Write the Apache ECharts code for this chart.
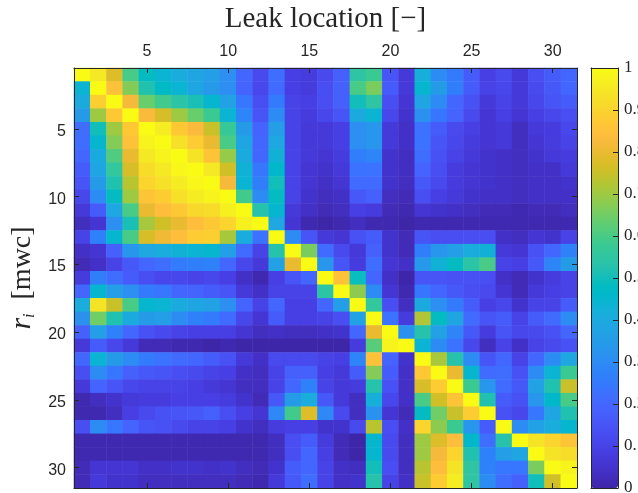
<!DOCTYPE html>
<html><head><meta charset="utf-8">
<style>html,body{margin:0;padding:0;background:#fff}#c{width:638px;height:493px}</style>
<script src="https://cdn.jsdelivr.net/npm/echarts@6/dist/echarts.min.js"></script>
</head><body><div id="c"></div>
<script>
const categories=[1,2,3,4,5,6,7,8,9,10,11,12,13,14,15,16,17,18,19,20,21,22,23,24,25,26,27,28,29,30,31];
const colorbarTicks=[0,.1,.2,.3,.4,.5,.6,.7,.8,.9,1];
const r01=[1,.95,.78,.60,.48,.44,.41,.38,.36,.31,.20,.12,.22,.09,.08,.12,.18,.55,.58,.15,.07,.42,.30,.25,.17,.09,.12,.07,.13,.17,.20];
const r02=[.44,1,.85,.67,.52,.47,.44,.38,.34,.31,.19,.11,.21,.09,.08,.13,.18,.60,.66,.17,.07,.45,.35,.26,.17,.10,.11,.07,.12,.16,.20];
const r03=[.40,.89,1,.82,.64,.59,.54,.51,.45,.37,.24,.13,.25,.10,.09,.13,.18,.50,.55,.13,.06,.38,.30,.20,.14,.07,.10,.07,.11,.15,.17];
const r04=[.35,.70,.87,1,.83,.77,.70,.64,.58,.44,.28,.15,.30,.10,.08,.11,.15,.40,.44,.11,.05,.32,.24,.19,.12,.06,.09,.06,.09,.11,.13];
const r05=[.22,.50,.70,.87,1,.96,.87,.83,.75,.57,.35,.19,.36,.10,.07,.07,.09,.31,.33,.07,.04,.23,.17,.12,.09,.06,.07,.03,.07,.08,.11];
const r06=[.22,.45,.67,.85,.98,1,.93,.88,.80,.60,.38,.20,.39,.10,.07,.07,.09,.31,.33,.07,.04,.23,.15,.11,.08,.06,.07,.03,.06,.08,.10];
const r07=[.20,.40,.61,.80,.95,.98,1,.94,.86,.69,.40,.20,.43,.10,.07,.06,.08,.26,.28,.05,.03,.22,.14,.10,.07,.05,.04,.03,.05,.07,.08];
const r08=[.17,.38,.56,.77,.92,.95,.99,1,.95,.76,.43,.24,.46,.10,.06,.05,.07,.23,.23,.05,.03,.19,.13,.08,.06,.05,.04,.03,.04,.04,.07];
const r09=[.15,.35,.52,.73,.90,.93,.96,.99,1,.82,.44,.26,.50,.10,.06,.04,.06,.21,.21,.05,.03,.16,.12,.08,.06,.05,.04,.03,.04,.04,.05];
const r10=[.11,.30,.48,.70,.86,.88,.93,.96,.98,1,.59,.30,.48,.10,.05,.03,.04,.16,.18,.03,.02,.13,.09,.07,.05,.04,.04,.03,.04,.04,.04];
const r11=[.07,.17,.39,.60,.80,.84,.87,.91,.92,.97,1,.53,.45,.07,.04,.02,.03,.09,.08,.02,.01,.06,.05,.04,.03,.02,.02,.01,.02,.02,.03];
const r12=[.03,.06,.31,.51,.71,.76,.80,.84,.87,.90,.97,1,.39,.06,.01,0,.01,.03,.01,.01,0,.01,.01,.01,.01,.01,.01,.01,.01,.01,.01];
const r13=[.10,.27,.45,.60,.77,.81,.84,.88,.89,.71,.41,.23,1,.30,.15,.07,.06,.14,.17,.05,.02,.15,.13,.13,.13,.13,.04,.03,.06,.05,.10];
const r14=[.04,.06,.18,.33,.39,.41,.43,.44,.45,.36,.21,.10,.53,1,.66,.21,.12,.07,.18,.05,.02,.26,.33,.36,.41,.43,.07,.06,.14,.20,.27];
const r15=[.02,.04,.10,.16,.20,.22,.25,.26,.27,.20,.11,.07,.37,.80,1,.33,.15,.08,.22,.06,.04,.34,.43,.48,.54,.60,.10,.09,.16,.28,.35];
const r16=[.08,.26,.22,.17,.13,.11,.11,.10,.11,.09,.04,.01,.09,.15,.20,1,.85,.49,.20,.04,0,.15,.15,.14,.14,.13,.04,.02,.05,.08,.10];
const r17=[.20,.45,.36,.31,.25,.24,.20,.19,.17,.15,.07,.04,.10,.10,.10,.54,1,.68,.30,.06,.01,.24,.20,.16,.13,.12,.06,.02,.07,.09,.10];
const r18=[.41,.94,.75,.60,.45,.44,.40,.38,.37,.31,.19,.10,.20,.09,.09,.20,.36,1,.56,.13,.03,.40,.31,.25,.17,.09,.11,.05,.10,.10,.17];
const r19=[.32,.65,.52,.40,.35,.36,.30,.27,.25,.21,.11,.06,.17,.09,.09,.10,.13,.37,1,.23,.08,.72,.48,.38,.21,.15,.17,.10,.17,.21,.30];
const r20=[.18,.36,.27,.20,.14,.12,.10,.09,.09,.09,.06,.03,.04,.03,.03,.04,.05,.20,.80,1,.32,.53,.37,.28,.16,.08,.15,.11,.12,.14,.20];
const r21=[.07,.17,.11,.07,.02,.02,.01,.01,0,.01,0,0,0,0,0,0,0,.08,.62,.98,1,.44,.30,.23,.11,.03,.10,.04,.10,.12,.14];
const r22=[.20,.44,.35,.30,.25,.23,.21,.20,.17,.14,.07,.04,.12,.12,.12,.10,.09,.28,.85,.19,.05,1,.71,.53,.30,.15,.20,.10,.20,.30,.39];
const r23=[.13,.30,.24,.18,.16,.15,.13,.12,.10,.09,.04,.03,.10,.18,.18,.09,.07,.17,.67,.17,.04,.87,1,.80,.45,.21,.22,.14,.30,.44,.58];
const r24=[.07,.19,.15,.11,.10,.10,.10,.09,.07,.06,.03,.03,.10,.20,.27,.10,.07,.08,.53,.14,.04,.77,.88,1,.58,.33,.21,.16,.37,.52,.75];
const r25=[.01,.03,.05,.07,.08,.08,.09,.09,.09,.08,.05,.02,.16,.35,.41,.16,.07,.03,.42,.11,.04,.60,.76,.86,1,.52,.17,.14,.33,.46,.60];
const r26=[.01,.01,.03,.09,.12,.14,.15,.16,.18,.13,.09,.06,.29,.59,.78,.29,.12,.03,.32,.06,.02,.48,.65,.75,.88,1,.14,.11,.24,.38,.52];
const r27=[.13,.30,.24,.19,.15,.14,.12,.10,.10,.09,.05,.03,.08,.09,.09,.05,.05,.12,.73,.13,.04,.90,.68,.58,.33,.17,1,.30,.37,.41,.45];
const r28=[.01,.01,.01,.01,.01,.01,.01,.01,.01,.01,.01,.01,.03,.13,.17,.08,.02,0,.45,.12,.03,.70,.78,.84,.46,.22,.53,1,.94,.90,.86];
const r29=[.01,.01,.01,.01,.01,.01,.01,.01,.01,.01,.01,.01,.03,.13,.20,.09,.02,0,.45,.12,.03,.70,.82,.90,.52,.27,.36,.38,1,.94,.92];
const r30=[.02,.06,.06,.06,.04,.04,.05,.05,.04,.05,.03,.02,.05,.17,.20,.10,.04,.03,.50,.13,.03,.73,.84,.94,.55,.27,.24,.24,.66,1,.98];
const r31=[.02,.07,.05,.05,.03,.03,.03,.03,.03,.03,.02,.01,.07,.16,.22,.10,.04,.05,.53,.10,.04,.75,.88,.96,.55,.30,.22,.18,.50,.76,1];
const rows=[r01,r02,r03,r04,r05,r06,r07,r08,r09,r10,r11,r12,r13,r14,r15,r16,r17,r18,r19,r20,r21,r22,r23,r24,r25,r26,r27,r28,r29,r30,r31];
const parula=[[.2422,.1504,.6603],[.2504,.165,.7076],[.2578,.1818,.7511],[.2647,.1978,.7952],[.2706,.2147,.8364],[.2751,.2342,.871],[.2783,.2559,.8991],[.2803,.2782,.9221],[.2813,.3006,.9414],[.281,.3228,.9579],[.2795,.3447,.9717],[.276,.3667,.9829],[.2699,.3892,.9906],[.2602,.4123,.9952],[.244,.4358,.9988],[.2206,.4603,.9973],[.1963,.4847,.9892],[.1834,.5074,.9798],[.1786,.5289,.9682],[.1764,.5499,.952],[.1687,.5703,.9359],[.154,.5902,.9218],[.146,.6091,.9079],[.138,.6276,.8973],[.1248,.6459,.8883],[.1113,.6635,.8763],[.0952,.6798,.8598],[.0689,.6948,.8394],[.0297,.7082,.8163],[.0036,.7203,.7917],[.0067,.7312,.766],[.0433,.7411,.7394],[.0964,.75,.712],[.1408,.7584,.6842],[.1717,.767,.6554],[.1938,.7758,.6251],[.2161,.7843,.5923],[.247,.7918,.5567],[.2906,.7973,.5188],[.3406,.8008,.4789],[.3909,.8029,.4354],[.4456,.8024,.3909],[.5044,.7993,.348],[.5616,.7942,.3045],[.6174,.7876,.2612],[.672,.7793,.2227],[.7242,.7698,.191],[.7738,.7598,.1646],[.8203,.7498,.1535],[.8634,.7406,.1596],[.9035,.733,.1774],[.9393,.7288,.21],[.9728,.7298,.2394],[.9956,.7434,.2371],[.997,.7659,.2199],[.9952,.7893,.2028],[.9892,.8136,.1885],[.9786,.8386,.1766],[.9676,.8639,.1643],[.961,.889,.1537],[.9597,.9135,.1423],[.9628,.9373,.1265],[.9691,.9606,.1064],[.9769,.9839,.0805]]
  .map(c=>'rgb('+c.map(v=>Math.round(v*255)).join(',')+')');
const cells=[];
rows.forEach((row,y)=>row.forEach((v,x)=>cells.push([x,y,v])));
const ink='#262626';
const every5=i=>(i+1)%5===0;
const line={show:true,lineStyle:{color:ink,width:1}};
const hAxis=(pos,labelled,extra)=>Object.assign({type:'category',data:categories,position:pos,z:10,
  axisLine:Object.assign({onZero:false},line),
  axisTick:{show:true,inside:true,length:5,alignWithLabel:true,interval:every5,lineStyle:{color:ink}},
  axisLabel:{show:labelled,interval:every5,margin:8,color:ink,fontFamily:'Liberation Sans',fontSize:16},
  splitLine:{show:false}},extra||{});
const chart=echarts.init(document.getElementById('c'),null,{renderer:'canvas'});
chart.setOption({
  animation:false,backgroundColor:'#fff',
  grid:[{left:74,top:68,width:503,height:420,containLabel:false,outerBoundsMode:'none'},
        {left:591,top:68,width:27,height:420,containLabel:false,outerBoundsMode:'none'}],
  xAxis:[
    hAxis('top',true,{name:'Leak location [\u2212]',nameLocation:'middle',nameGap:34,
      nameTextStyle:{color:ink,fontFamily:'Liberation Serif',fontSize:29}}),
    hAxis('bottom',false),
    {type:'category',gridIndex:1,data:[''],position:'top',z:10,axisLine:Object.assign({onZero:false},line),axisTick:{show:false},axisLabel:{show:false}},
    {type:'category',gridIndex:1,data:[''],position:'bottom',z:10,axisLine:Object.assign({onZero:false},line),axisTick:{show:false},axisLabel:{show:false}}
  ],
  yAxis:[
    hAxis('left',true,{inverse:true,name:'{r|r}{s|i}{n|  [mwc]}',nameLocation:'middle',nameGap:26,nameRotate:90,
      axisLabel:{interval:every5,margin:8,color:ink,fontFamily:'Liberation Sans',fontSize:16,
        formatter:'{a|{value}}',rich:{a:{fontFamily:'Liberation Sans',fontSize:16,color:ink,padding:[5,0,0,0]}}},
      nameTextStyle:{color:ink,rich:{
        r:{fontFamily:'Liberation Serif',fontStyle:'italic',fontSize:30,color:ink},
        s:{fontFamily:'Liberation Serif',fontStyle:'italic',fontSize:16,color:ink,verticalAlign:'bottom',padding:[12,0,0,0]},
        n:{fontFamily:'Liberation Serif',fontSize:28,color:ink}}}}),
    hAxis('right',false,{inverse:true}),
    {type:'value',gridIndex:1,min:0,max:1,interval:.1,position:'left',z:10,axisLine:Object.assign({onZero:false},line),axisTick:{show:false},axisLabel:{show:false},splitLine:{show:false}},
    {type:'value',gridIndex:1,min:0,max:1,interval:.1,position:'right',z:10,axisLine:Object.assign({onZero:false},line),
      axisTick:{show:true,inside:true,length:5,lineStyle:{color:ink}},
      axisLabel:{margin:6,color:ink,fontFamily:'Liberation Serif',fontSize:17},splitLine:{show:false}}
  ],
  visualMap:{type:'continuous',min:0,max:1,seriesIndex:0,calculable:false,realtime:false,hoverLink:false,
    orient:'vertical',left:591,top:68,padding:0,itemWidth:27,itemHeight:420,text:null,showLabel:false,
    inRange:{color:parula},textStyle:{fontSize:0}},
  series:[{type:'heatmap',data:cells,xAxisIndex:0,yAxisIndex:0,progressive:0,itemStyle:{borderWidth:0},emphasis:{disabled:true}}]
});
</script></body></html>
